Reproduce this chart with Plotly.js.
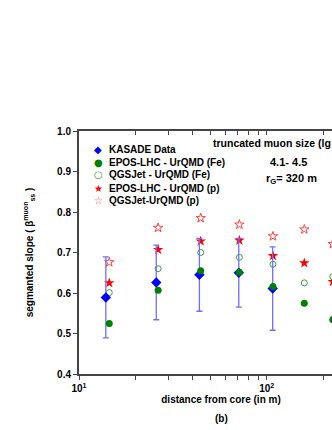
<!DOCTYPE html>
<html>
<head>
<meta charset="utf-8">
<script src="https://cdn.plot.ly/plotly-3.0.1.min.js"></script>
<style>
  html, body { margin: 0; padding: 0; overflow: hidden; background: #fff; }
</style>
</head>
<body>
<div id="plotChart"></div>
<script>
var font_family = "Arial, 'Liberation Sans', sans-serif";
var axis_color = "#444444";

// KASCADE data points (distance from core in m, segmented slope, error)
var distKas = [13.9, 25.8, 43.8, 71, 107.6];
var betaKas = [0.589, 0.626, 0.645, 0.650, 0.611];
var errKas = [0.100, 0.092, 0.090, 0.085, 0.103];

// simulations
var distSim = [14.5, 26.4, 44.5, 71.5, 108, 158.6, 225];
var eposFe = [0.525, 0.607, 0.655, 0.651, 0.616, 0.575, 0.534];
var qgsFe = [0.601, 0.660, 0.700, 0.688, 0.671, 0.625, 0.640];
var eposP = [0.625, 0.707, 0.728, 0.730, 0.692, 0.674, 0.628];
var qgsP = [0.676, 0.761, 0.785, 0.769, 0.740, 0.757, 0.721];

var legendNames = ["KASADE Data", "EPOS-LHC - UrQMD (Fe)", "QGSJet - UrQMD (Fe)",
                   "EPOS-LHC - UrQMD (p)", "QGSJet-UrQMD (p)"];
var legendSymbols = ["\u25C6", "\u25CF", "\u25CB", "\u2605", "\u2606"];
var legendColors = ["#0000ff", "#008000", "#3aa03a", "#ff0000", "#ff4040"];

// ticks: labelled decades plus unlabelled minor positions
var xTickVals = [10, 20, 30, 40, 50, 60, 70, 80, 90, 100, 200, 300];
var xTickText = ["10<sup>1</sup>", "", "", "", "", "", "", "", "", "10<sup>2</sup>", "", ""];

const graphic = {
    data: [
        {
            x: distSim, y: qgsP, mode: "markers", type: "scatter",
            marker: {symbol: "star-open", size: 7, color: "#ff4040", line: {width: 1}}
        },
        {
            x: distSim, y: eposP, mode: "markers", type: "scatter",
            marker: {symbol: "star", size: 8, color: "#ff0000"}
        },
        {
            x: distSim, y: qgsFe, mode: "markers", type: "scatter",
            marker: {symbol: "circle-open", size: 6, color: "#3aa03a", line: {width: 1}}
        },
        {
            x: distKas, y: betaKas, mode: "markers", type: "scatter",
            error_y: {type: "data", array: errKas, visible: true, color: "#6f6fff", thickness: 1.3, width: 3},
            marker: {symbol: "diamond", size: 8, color: "#0000ff"}
        },
        {
            x: distSim, y: eposFe, mode: "markers", type: "scatter",
            marker: {symbol: "circle", size: 7, color: "#008000"}
        },
        {
            // carries the top axis (no visible marks)
            x: distSim, y: eposFe, mode: "markers", type: "scatter",
            xaxis: "x2", yaxis: "y", hoverinfo: "skip",
            marker: {size: 1, opacity: 0}
        }
    ],
    layout: {
        width: 460,
        height: 430,
        margin: {l: 79, r: 97, t: 131, b: 56},
        showlegend: false,
        plot_bgcolor: "#ffffff",
        paper_bgcolor: "#ffffff",
        font: {family: font_family, color: "#000000", size: 10},
        xaxis: {
            type: "log",
            range: [1, 2.513],
            tickmode: "array",
            tickvals: xTickVals,
            ticktext: xTickText,
            ticks: "outside",
            ticklen: 4,
            tickwidth: 1,
            tickcolor: axis_color,
            showgrid: false,
            zeroline: false,
            showline: true,
            linecolor: axis_color,
            linewidth: 2,
            tickfont: {size: 10, family: font_family, weight: "bold"},
            title: {text: "<b>distance from core (in m)</b>", font: {size: 10}, standoff: 2}
        },
        xaxis2: {
            type: "log",
            overlaying: "x",
            side: "top",
            anchor: "y",
            range: [1, 2.513],
            tickmode: "array",
            tickvals: xTickVals,
            showticklabels: false,
            ticks: "inside",
            ticklen: 4,
            tickcolor: axis_color,
            showgrid: false,
            zeroline: false,
            showline: true,
            linecolor: axis_color,
            linewidth: 2
        },
        yaxis: {
            range: [0.4, 1.0],
            dtick: 0.1,
            tickformat: ".1f",
            ticks: "outside",
            ticklen: 4,
            tickcolor: axis_color,
            showgrid: false,
            zeroline: false,
            showline: true,
            linecolor: axis_color,
            linewidth: 2,
            tickfont: {size: 10, family: font_family, weight: "bold"},
            title: {text: "<b>segmanted slope ( \u03B2<sup>muon</sup><sub>ss</sub> )</b>", font: {size: 10}, standoff: 22}
        },
        annotations: []
    }
};

// legend drawn as text rows inside the frame
var legendRowsY = [0.922, 0.871, 0.819, 0.764, 0.712];
for (var i = 0; i < legendNames.length; i++) {
    graphic.layout.annotations.push({
        xref: "paper", yref: "paper", x: 0.067, y: legendRowsY[i],
        xanchor: "center", yanchor: "middle", showarrow: false,
        text: legendSymbols[i], font: {size: 10, color: legendColors[i], family: "DejaVu Sans"}
    });
    graphic.layout.annotations.push({
        xref: "paper", yref: "paper", x: 0.1, y: legendRowsY[i],
        xanchor: "left", yanchor: "middle", showarrow: false,
        text: "<b>" + legendNames[i] + "</b>", font: {size: 10}
    });
}
graphic.layout.annotations.push(
    {xref: "paper", yref: "paper", x: 0.465, y: 0.948, xanchor: "left", yanchor: "middle", showarrow: false,
     text: "<b>truncated muon size (lg N<sub>\u03BC</sub><sup>tr</sup>)</b>", font: {size: 10.5}},
    {xref: "paper", yref: "paper", x: 0.665, y: 0.871, xanchor: "left", yanchor: "middle", showarrow: false,
     text: "<b>4.1- 4.5</b>", font: {size: 11}},
    {xref: "paper", yref: "paper", x: 0.651, y: 0.802, xanchor: "left", yanchor: "middle", showarrow: false,
     text: "<b>r<sub>G</sub>= 320 m</b>", font: {size: 11}},
    {xref: "paper", yref: "paper", x: 0.5, y: -0.185, xanchor: "center", yanchor: "middle", showarrow: false,
     text: "<b>(b)</b>", font: {size: 10}}
);

Plotly.newPlot("plotChart", graphic.data, graphic.layout, {staticPlot: true});
</script>
</body>
</html>
